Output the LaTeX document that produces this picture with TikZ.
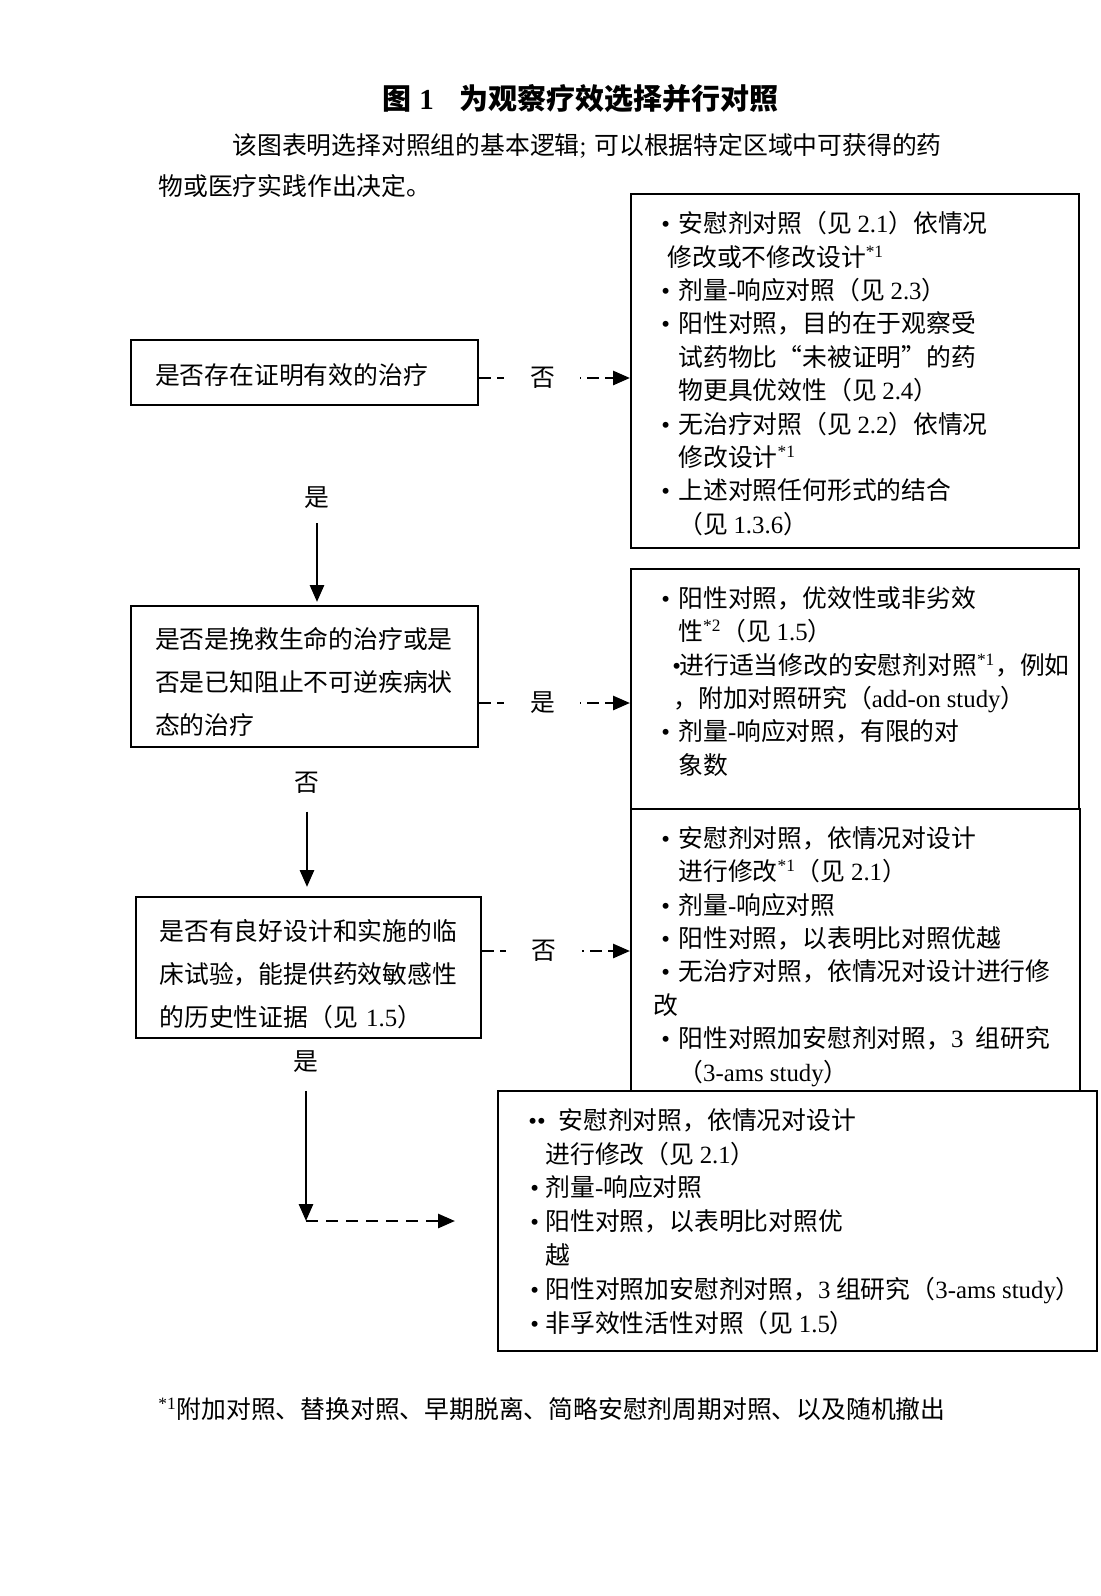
\documentclass[tikz,border=0pt]{standalone}
\usepackage{fontspec}
\setmainfont{Noto Sans CJK SC}
\newfontfamily\tnr{Liberation Serif}
\usetikzlibrary{arrows.meta, calc, positioning}
\newcommand{\en}[1]{{\tnr #1}}
\newcommand{\nt}[1]{\textsuperscript{\tnr #1}}
\newcommand{\bl}[1][8.5pt]{\makebox[#1][l]{\tnr •}}
\newcommand{\ind}[1][8.5pt]{\hspace*{#1}}

\begin{document}
\begin{tikzpicture}[x=0.5pt, y=-0.5pt,
    every node/.style={inner sep=0pt},
    body/.style={font=\fontsize{12.4}{16.7}\selectfont},
    qbox/.style={draw, line width=1pt, align=left, inner xsep=12pt, minimum height=70.5pt, font=\fontsize{12.4}{21.5}\selectfont},
    obox/.style={draw, line width=1pt, fill=white},
    otext/.style={anchor=north west, align=left, font=\fontsize{12.4}{16.7}\selectfont},
    arr/.style={-{Triangle[length=8.5pt, width=7pt]}, line width=1.4pt},
    dasharr/.style={arr, dash pattern=on 6pt off 3pt},
    edgelabel/.style={fill=white, minimum width=38pt, minimum height=14pt, font=\fontsize{12.4}{14}\selectfont},
    steplabel/.style={font=\fontsize{12.4}{14}\selectfont}
]
\fill[white] (0,0) rectangle (1100,1596);

% Title and intro
\node[anchor=west, font=\fontsize{14.5}{16}\selectfont\bfseries] (title) at (382,99)
   {图\hspace{4pt}\en{\bfseries 1}\hspace{13pt}为观察疗效选择并行对照};
\node[body, anchor=west] (intro1) at (232,146) {该图表明选择对照组的基本逻辑\en{;}\hspace{4pt}可以根据特定区域中可获得的药};
\node[body, anchor=west] (intro2) at (158,186) {物或医疗实践作出决定。};

% Questions
\node[qbox, text width=149.5pt, minimum height=32.5pt] (q1) at (304.5,372.5) {\rule{0pt}{12.9pt}是否存在证明有效的治疗};
\node[qbox, text width=149.5pt] (q2) at (304.5,676.5)
   {\rule{0pt}{15.9pt}是否是挽救生命的治疗或是\\否是已知阻止不可逆疾病状\\态的治疗};
\node[qbox, text width=149pt, minimum width=172.5pt, inner xsep=0pt] (q3) at (308.5,967.5)
   {\rule{0pt}{16.9pt}是否有良好设计和实施的临\\床试验，能提供药效敏感性\\的历史性证据（见 \en{1.5}）};

% Choices of control
\node[obox, minimum width=224pt, minimum height=177pt] (a1) at (855,371) {};
\node[otext] (a1t) at (661,211) {\bl 安慰剂对照（见 \en{2.1}）依情况\\
\ind[3pt]修改或不修改设计\nt{*1}\\
\bl 剂量\en{-}响应对照（见 \en{2.3}）\\
\bl 阳性对照，目的在于观察受\\
\ind 试药物比“未被证明”的药\\
\ind 物更具优效性（见 \en{2.4}）\\
\bl 无治疗对照（见 \en{2.2}）依情况\\
\ind 修改设计\nt{*1}\\
\bl 上述对照任何形式的结合\\
\ind （见 \en{1.3.6}）};

\node[obox, minimum width=224pt, minimum height=120pt] (a2) at (855,689) {};
\node[otext] (a2t) at (661,586) {\bl 阳性对照，优效性或非劣效\\
\ind 性\nt{*2}（见 \en{1.5}）\\
\hspace*{5.5pt}\bl[3.5pt]进行适当修改的安慰剂对照\nt{*1}，例如\\
\ind[6pt]，附加对照研究（\en{add-on study}）\\
\bl 剂量\en{-}响应对照，有限的对\\
\ind 象数};

\node[obox, minimum width=224.5pt, minimum height=141.5pt] (a3) at (855.5,950.5) {};
\node[otext] (a3t) at (661,826) {\bl 安慰剂对照，依情况对设计\\
\ind 进行修改\nt{*1}（见 \en{2.1}）\\
\bl 剂量\en{-}响应对照\\
\bl 阳性对照，以表明比对照优越\\
\bl 无治疗对照，依情况对设计进行修\\
\hspace*{-4pt}改\\
\bl 阳性对照加安慰剂对照，\en{3}\hspace{6pt}组研究\\
\ind （\en{3-ams study}）};

\node[obox, minimum width=299.5pt, minimum height=130pt] (a4) at (797.5,1221) {};
\node[otext, font=\fontsize{12.4}{16.9}\selectfont] (a4t) at (530,1108)
   {\hspace*{-1pt}\makebox[15pt][l]{\en{••}}安慰剂对照，依情况对设计\\
\ind[7.5pt]进行修改（见 \en{2.1}）\\
\bl[7.5pt]剂量\en{-}响应对照\\
\bl[7.5pt]阳性对照，以表明比对照优\\
\ind[7.5pt]越\\
\bl[7.5pt]阳性对照加安慰剂对照，\en{3} 组研究（\en{3-ams study}）\\
\bl[7.5pt]非孚效性活性对照（见 \en{1.5}）};

% Side branches
\coordinate (n1) at ($(q1.east)+(0,5.5)$);
\coordinate (n2) at ($(q2.east)+(0,26.5)$);
\coordinate (n3) at ($(q3.east)+(0,-16.5)$);
\draw[dasharr] (n1) -- node[edgelabel, pos=0.42] {否} (n1 -| a1.west);
\draw[dasharr] (n2) -- node[edgelabel, pos=0.42] {是} (n2 -| a2.west);
\draw[dasharr] (n3) -- node[edgelabel, pos=0.42] {否} (n3 -| a3.west);

% Main branch
\node[steplabel] (y1) at (317,498) {是};
\draw[arr, shorten <=7pt, shorten >=1.5pt] (y1.south) -- (y1.south |- q2.north);
\node[steplabel] (n2l) at (307,783) {否};
\draw[arr, shorten <=8.8pt, shorten >=4.5pt] (n2l.south) -- (n2l.south |- q3.north);
\node[steplabel] (y3) at (306,1062) {是};
\coordinate (bend) at (306,1221);
\coordinate (stop) at (455,1221);
\draw[arr, shorten <=8.8pt] (y3.south) -- (bend);
\draw[arr, dash pattern=on 6pt off 4pt] (bend) -- (stop);

% Footnote
\node[body, anchor=west] (fn) at (158,1409)
   {\nt{*1}附加对照、替换对照、早期脱离、简略安慰剂周期对照、以及随机撤出};
\end{tikzpicture}
\end{document}
